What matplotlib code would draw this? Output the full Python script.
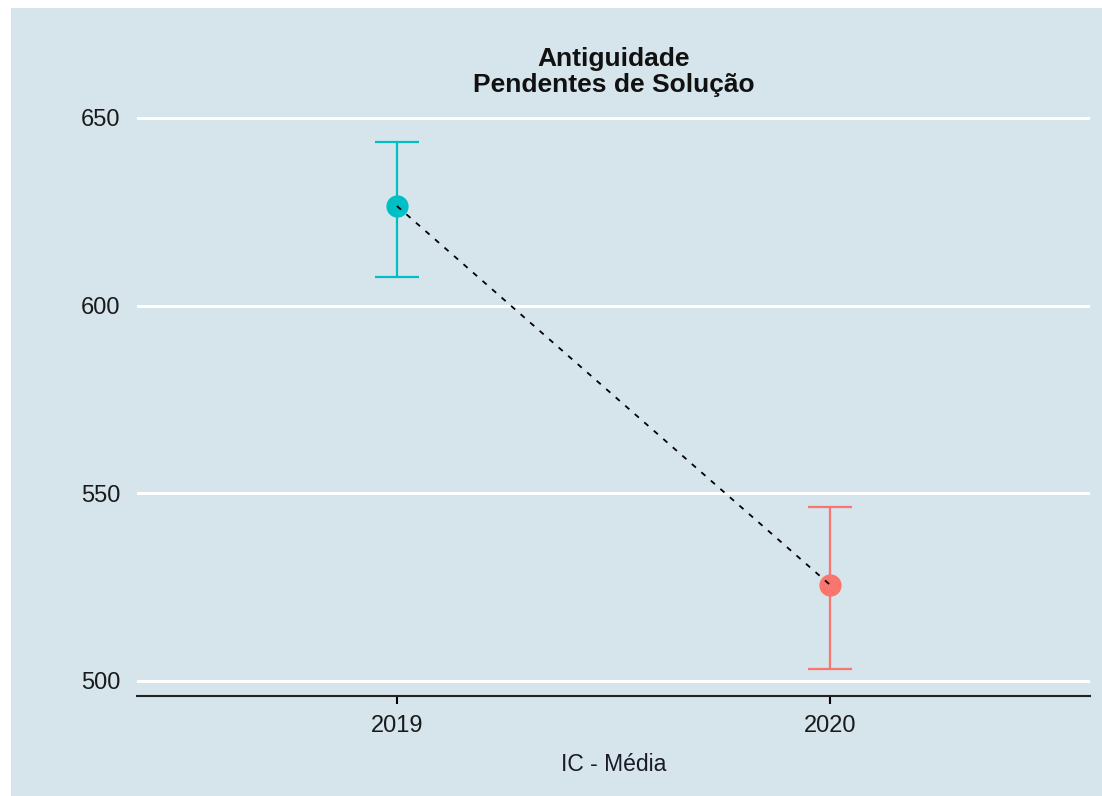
import matplotlib.pyplot as plt
from matplotlib.patches import Rectangle

plt.rcParams['font.family'] = ['Liberation Sans', 'DejaVu Sans']

anos = ["2019", "2020"]
media = [626.5, 525.6]
ic_inf = [607.6, 503.2]
ic_sup = [643.6, 546.4]
cores = ["#00BFC4", "#F8766D"]

bg = "#d6e4eb"

fig = plt.figure(figsize=(11.02, 7.96), dpi=100, facecolor="white")
fig.patches.append(Rectangle((11/1102, -0.01), 1, 1.01 - 8/796, transform=fig.transFigure,
                             facecolor=bg, edgecolor="none", zorder=-10))
ax = fig.add_axes([137/1102, 1 - 696/796, (1090 - 137)/1102, (696 - 99)/796])
ax.set_facecolor(bg)

x = [1, 2]
ax.plot(x, media, linestyle=(0, (3, 4)), color="black", linewidth=1.3, zorder=4)
for i in range(len(x)):
    ax.errorbar(x[i], media[i], yerr=[[media[i] - ic_inf[i]], [ic_sup[i] - media[i]]],
                fmt="o", color=cores[i], markersize=15, elinewidth=1.6,
                capsize=15.5, capthick=1.6, zorder=3)

ax.set_xlim(0.4, 2.6)
ax.set_ylim(496.0, 655)
ax.set_yticks([500, 550, 600, 650])
ax.set_xticks(x)
ax.set_xticklabels(anos)
ax.grid(axis="y", color="white", linewidth=2.2)
ax.set_axisbelow(True)
for s in ["top", "right", "left"]:
    ax.spines[s].set_visible(False)
ax.spines["bottom"].set_color("#222222")
ax.spines["bottom"].set_linewidth(1.5)
ax.tick_params(axis="y", length=0, labelsize=17, pad=12, labelcolor="#1a1a1a")
ax.tick_params(axis="x", length=6, width=1.5, labelsize=17, pad=8, labelcolor="#1a1a1a")

ax.set_title("Antiguidade\nPendentes de Solução", fontsize=19, fontweight="bold",
             pad=5, linespacing=1.1, color="#111111")
ax.set_xlabel("IC - Média", fontsize=16.5, labelpad=11, color="#1a1a2a")

fig.savefig("out.png", dpi=100, facecolor="white")
